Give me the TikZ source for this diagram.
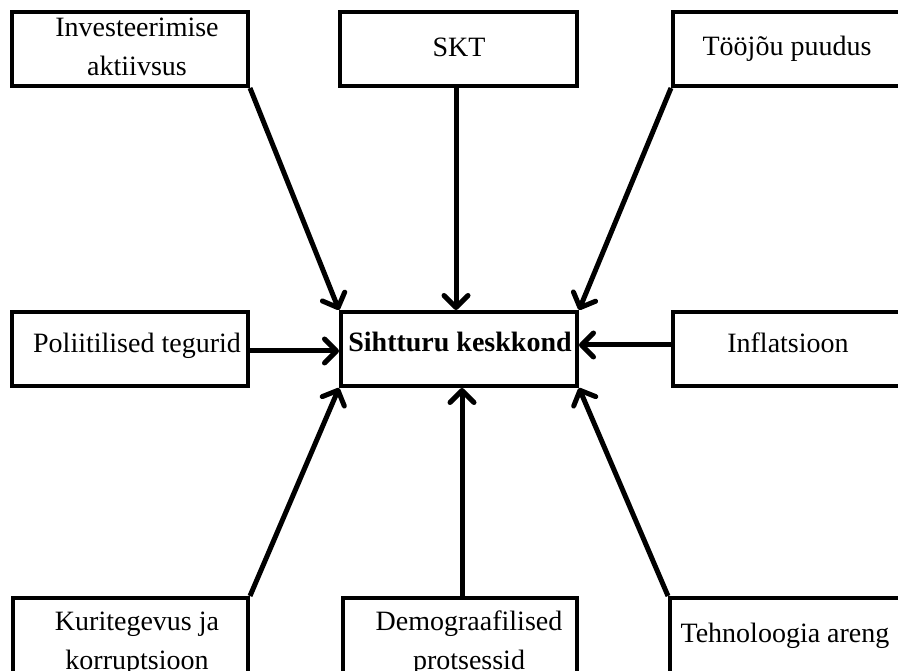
\documentclass[tikz,border=0pt]{standalone}
\usepackage{fontspec}
\setmainfont{Liberation Serif}
\usetikzlibrary{arrows.meta}
\begin{document}
\begin{tikzpicture}[x=1pt,y=-1pt,
  box/.style={draw=black, line width=4pt, rectangle, inner sep=0pt, fill=white},
  lbl/.style={anchor=base, inner sep=0pt, font=\fontsize{28}{34}\selectfont},
  arr/.style={line width=5pt, -{Straight Barb[length=12pt,width=24pt,round]}}]
\useasboundingbox (0,0) rectangle (898,671);
\clip (0,0) rectangle (898,671);
\fill[white] (0,0) rectangle (898,671);
% boxes
\node[box, minimum width=236pt, minimum height=74pt] (inv) at (130,49) {};
\node[box, minimum width=237pt, minimum height=74pt] (skt) at (458.5,49) {};
\node[box, minimum width=257pt, minimum height=74pt] (too) at (801.5,49) {};
\node[box, minimum width=236pt, minimum height=74pt] (pol) at (130,349) {};
\node[box, minimum width=236pt, minimum height=74pt] (sih) at (459,349) {};
\node[box, minimum width=257pt, minimum height=74pt] (inf) at (801.5,349) {};
\node[box, minimum width=235pt, minimum height=112pt] (kur) at (130.5,654) {};
\node[box, minimum width=234pt, minimum height=112pt] (dem) at (460,654) {};
\node[box, minimum width=260pt, minimum height=112pt] (teh) at (800,654) {};
% labels
\node[lbl] (inv1) at (137,37) {Investeerimise};
\node[lbl] (inv2) at (137,76) {aktiivsus};
\node[lbl] (sktt) at (459,57) {SKT};
\node[lbl] (toot) at (787,56) {Tööjõu puudus};
\node[lbl] (polt) at (137,353) {Poliitilised tegurid};
\node[lbl, font=\fontsize{28}{34}\selectfont\bfseries] (siht) at (460,352) {Sihtturu keskkond};
\node[lbl] (inft) at (788,353) {Inflatsioon};
\node[lbl] (kur1) at (137,630) {Kuritegevus ja};
\node[lbl] (kur2) at (137,669) {korruptsioon};
\node[lbl] (dem1) at (469,630) {Demograafilised};
\node[lbl] (dem2) at (469,669) {protsessid};
\node[lbl] (teht) at (785,642) {Tehnoloogia areng};
% connectors
\draw[arr] (inv.south east) -- (sih.north west);
\draw[arr] ([xshift=-2.5pt]skt.south) -- ([xshift=-3pt]sih.north);
\draw[arr] (too.south west) -- (sih.north east);
\draw[arr] ([yshift=-2pt]pol.east) -- ([yshift=-2pt]sih.west);
\draw[arr] ([yshift=4pt]inf.west) -- ([yshift=4pt]sih.east);
\draw[arr] (kur.north east) -- (sih.south west);
\draw[arr] ([xshift=2pt]dem.north) -- ([xshift=3pt]sih.south);
\draw[arr] (teh.north west) -- (sih.south east);
\end{tikzpicture}
\end{document}
